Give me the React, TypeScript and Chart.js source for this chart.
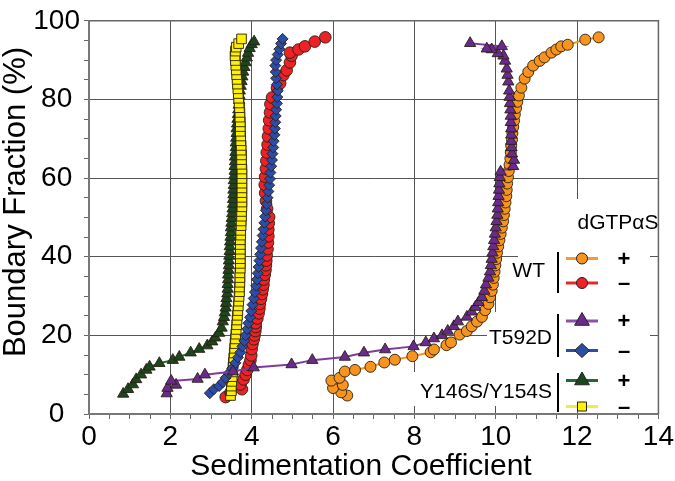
import React, { useEffect, useRef } from 'react';
import { Chart, registerables } from 'chart.js';

Chart.register(...registerables);

// ---------- data (Sedimentation Coefficient, Boundary Fraction %) ----------
const WT_PLUS_X = [6.35, 6.2, 6.0, 6.24, 5.96, 6.16, 6.29, 6.54, 6.92, 7.26, 7.52, 7.95, 8.4, 8.48, 8.79, 8.9, 9.11, 9.29, 9.41, 9.54, 9.66, 9.74, 9.82, 9.86, 9.9, 9.93, 9.95, 9.97, 9.99, 10.01, 10.03, 10.06, 10.09, 10.12, 10.15, 10.18, 10.2, 10.22, 10.24, 10.26, 10.27, 10.28, 10.3, 10.32, 10.34, 10.36, 10.37, 10.38, 10.4, 10.41, 10.43, 10.45, 10.47, 10.5, 10.53, 10.57, 10.63, 10.71, 10.8, 10.92, 11.08, 11.2, 11.37, 11.49, 11.61, 11.77, 12.2, 12.53];
const WT_PLUS_Y = [4.7, 5.5, 6.6, 7.4, 8.5, 9.2, 10.8, 11.2, 12.0, 13.1, 13.8, 14.7, 15.7, 16.4, 17.5, 18.2, 20.2, 21.1, 22.3, 23.5, 24.7, 26.4, 28.0, 29.7, 31.3, 32.9, 34.6, 36.2, 37.8, 39.4, 41.0, 42.6, 44.2, 45.8, 47.4, 49.0, 50.6, 52.2, 53.8, 55.4, 57.0, 58.6, 60.2, 61.8, 63.4, 65.0, 66.6, 68.2, 69.8, 71.4, 73.0, 74.6, 76.2, 77.8, 79.4, 81.0, 83.0, 85.3, 87.0, 88.6, 89.8, 90.7, 91.9, 92.7, 93.5, 93.9, 95.2, 95.8];

const WT_MINUS_X = [3.36, 3.48, 3.76, 3.72, 3.8, 3.85, 3.89, 3.93, 3.97, 3.99, 4.0, 4.02, 4.05, 4.07, 4.09, 4.1, 4.1, 4.14, 4.17, 4.19, 4.2, 4.23, 4.25, 4.27, 4.29, 4.3, 4.32, 4.34, 4.35, 4.36, 4.37, 4.39, 4.4, 4.41, 4.41, 4.42, 4.43, 4.38, 4.35, 4.33, 4.32, 4.33, 4.35, 4.36, 4.37, 4.39, 4.4, 4.42, 4.43, 4.45, 4.46, 4.5, 4.62, 4.7, 4.78, 4.86, 4.94, 4.98, 4.94, 5.15, 5.31, 5.55, 5.81];
const WT_MINUS_Y = [4.3, 5.5, 6.3, 7.5, 8.8, 10.0, 11.2, 12.5, 13.7, 14.9, 16.5, 17.8, 19.0, 20.0, 21.1, 22.1, 23.1, 24.3, 25.6, 26.8, 28.0, 29.3, 30.5, 31.7, 32.9, 34.2, 35.4, 36.6, 37.8, 39.0, 40.3, 41.9, 43.6, 45.2, 46.9, 48.5, 50.1, 52.2, 54.2, 56.2, 58.3, 60.3, 62.4, 64.4, 66.5, 68.5, 70.6, 72.6, 74.7, 76.7, 78.8, 80.5, 82.9, 84.1, 86.2, 87.4, 89.4, 91.1, 91.9, 92.7, 93.5, 94.7, 95.8];

const T592D_PLUS_X = [1.91, 1.93, 2.14, 2.02, 2.67, 2.85, 3.54, 4.05, 4.98, 5.49, 6.29, 6.76, 7.28, 7.98, 8.28, 8.48, 8.68, 8.82, 8.97, 9.07, 9.29, 9.41, 9.5, 9.58, 9.66, 9.72, 9.76, 9.82, 9.86, 9.88, 9.9, 9.92, 9.94, 9.96, 9.98, 10.0, 10.02, 10.04, 10.05, 10.06, 10.07, 10.08, 10.09, 10.1, 10.12, 10.43, 10.45, 10.4, 10.39, 10.38, 10.38, 10.38, 10.37, 10.37, 10.36, 10.35, 10.34, 10.33, 10.31, 10.29, 10.27, 10.23, 10.19, 10.05, 9.9, 9.78, 10.15, 9.37];
const T592D_PLUS_Y = [5.2, 6.6, 7.4, 8.4, 8.9, 10.0, 10.8, 11.8, 12.6, 13.7, 14.5, 15.6, 16.4, 17.2, 18.2, 19.2, 20.0, 21.1, 22.3, 23.5, 24.7, 26.0, 27.2, 28.4, 29.7, 31.3, 32.9, 34.6, 36.2, 37.8, 39.4, 41.0, 42.6, 44.2, 45.8, 47.4, 49.0, 50.6, 52.2, 53.8, 55.4, 57.0, 58.6, 60.2, 61.6, 63.0, 64.6, 66.2, 67.8, 69.4, 71.0, 72.6, 74.2, 75.8, 77.4, 79.0, 80.6, 82.2, 84.5, 86.2, 87.8, 89.8, 91.1, 91.7, 92.7, 92.9, 93.5, 94.3];

const T592D_MINUS_X = [2.97, 3.07, 3.2, 3.29, 3.36, 3.44, 3.52, 3.6, 3.66, 3.72, 3.77, 3.82, 3.85, 3.89, 3.92, 3.96, 3.99, 4.02, 4.05, 4.08, 4.11, 4.13, 4.15, 4.17, 4.19, 4.21, 4.23, 4.25, 4.27, 4.29, 4.31, 4.33, 4.35, 4.37, 4.39, 4.41, 4.43, 4.45, 4.46, 4.48, 4.5, 4.51, 4.53, 4.54, 4.56, 4.57, 4.58, 4.59, 4.6, 4.62, 4.63, 4.64, 4.62, 4.6, 4.59, 4.58, 4.6, 4.64, 4.68, 4.72, 4.76];
const T592D_MINUS_Y = [5.3, 6.3, 7.1, 8.1, 9.2, 10.4, 11.6, 13.0, 14.4, 15.7, 17.2, 18.6, 20.0, 21.6, 23.1, 24.6, 26.2, 27.8, 29.4, 31.0, 32.6, 34.2, 35.8, 37.4, 39.0, 40.6, 42.2, 43.8, 45.4, 47.0, 48.6, 50.2, 51.8, 53.4, 55.0, 56.6, 58.2, 59.8, 61.4, 63.0, 64.6, 66.2, 67.8, 69.4, 71.0, 72.6, 74.2, 75.8, 77.4, 79.0, 80.6, 82.2, 83.8, 85.4, 87.0, 88.6, 90.0, 91.4, 92.8, 94.2, 95.4];

const Y146S_PLUS_X = [0.84, 0.96, 1.08, 1.16, 1.28, 1.41, 1.49, 1.73, 2.06, 2.22, 2.5, 2.71, 2.91, 3.03, 3.11, 3.2, 3.26, 3.29, 3.32, 3.34, 3.36, 3.37, 3.38, 3.4, 3.41, 3.41, 3.42, 3.42, 3.43, 3.44, 3.44, 3.45, 3.46, 3.46, 3.47, 3.48, 3.49, 3.49, 3.5, 3.51, 3.52, 3.53, 3.54, 3.54, 3.55, 3.55, 3.56, 3.56, 3.57, 3.58, 3.58, 3.59, 3.59, 3.6, 3.61, 3.61, 3.62, 3.63, 3.63, 3.64, 3.65, 3.66, 3.67, 3.68, 3.69, 3.7, 3.71, 3.73, 3.75, 3.77, 3.79, 3.82, 3.85, 3.88, 3.91, 3.95, 4.0, 4.06];
const Y146S_PLUS_Y = [5.1, 6.3, 7.5, 8.8, 10.0, 11.2, 12.0, 12.9, 13.7, 14.5, 15.6, 16.5, 17.4, 18.4, 19.4, 20.6, 21.9, 23.5, 24.6, 25.8, 27.0, 28.2, 29.4, 30.6, 31.8, 33.0, 34.2, 35.4, 36.6, 37.8, 39.0, 40.2, 41.4, 42.6, 43.8, 45.0, 46.2, 47.4, 48.6, 49.8, 51.0, 52.2, 53.4, 54.6, 55.8, 57.0, 58.2, 59.4, 60.6, 61.8, 63.0, 64.2, 65.4, 66.6, 67.8, 69.0, 70.2, 71.4, 72.6, 73.8, 75.0, 76.2, 77.4, 78.6, 79.8, 81.0, 82.2, 83.4, 84.6, 85.8, 87.0, 88.2, 89.4, 90.6, 91.8, 93.0, 94.0, 94.7];

const Y146S_MINUS_X = [3.48, 3.5, 3.5, 3.51, 3.52, 3.53, 3.54, 3.55, 3.56, 3.57, 3.58, 3.59, 3.6, 3.61, 3.62, 3.63, 3.64, 3.65, 3.66, 3.67, 3.68, 3.69, 3.7, 3.7, 3.71, 3.71, 3.71, 3.72, 3.72, 3.72, 3.72, 3.72, 3.72, 3.72, 3.73, 3.73, 3.74, 3.74, 3.75, 3.75, 3.76, 3.76, 3.76, 3.76, 3.76, 3.76, 3.76, 3.76, 3.76, 3.75, 3.75, 3.75, 3.74, 3.74, 3.73, 3.73, 3.72, 3.72, 3.72, 3.71, 3.71, 3.7, 3.69, 3.68, 3.67, 3.66, 3.65, 3.64, 3.63, 3.62, 3.61, 3.6, 3.59, 3.6, 3.62, 3.68, 3.75];
const Y146S_MINUS_Y = [4.7, 5.9, 7.1, 8.3, 9.5, 10.7, 11.9, 13.1, 14.3, 15.5, 16.7, 17.9, 19.1, 20.3, 21.5, 22.7, 23.9, 25.1, 26.3, 27.5, 28.7, 29.9, 31.1, 32.3, 33.5, 34.7, 35.9, 37.1, 38.3, 39.5, 40.7, 41.9, 43.1, 44.3, 45.5, 46.7, 47.9, 49.1, 50.3, 51.5, 52.7, 53.9, 55.1, 56.3, 57.5, 58.7, 59.9, 61.1, 62.3, 63.5, 64.7, 65.9, 67.1, 68.3, 69.5, 70.7, 71.9, 73.1, 74.3, 75.5, 76.7, 77.9, 79.1, 80.3, 81.5, 82.7, 83.9, 85.1, 86.3, 87.5, 88.7, 89.9, 91.1, 92.3, 93.3, 94.2, 95.4];

const X_MIN = 0, X_MAX = 14, X_STEP = 0.5, X_LABEL_EVERY = 2;
const Y_MIN = 0, Y_MAX = 100, Y_STEP = 5, Y_LABEL_EVERY = 20;

const X_TITLE = 'Sedimentation Coefficient';
const Y_TITLE = 'Boundary Fraction (%)';
const LEGEND_TITLE = 'dGTPαS';
const LEGEND_GROUPS = ['WT', 'T592D', 'Y146S/Y154S'];
const LEGEND_SIGNS = ['+', '–'];

const FONT = '"Liberation Sans", Arial, Helvetica, sans-serif';

const pts = (xs: number[], ys: number[]) => xs.map((x, i) => ({ x, y: ys[i] }));
const isMult = (v: number, m: number) => Math.abs(v / m - Math.round(v / m)) < 1e-6;

const COLORS = {
  orange: '#F7941D',
  red: '#EC2227',
  purple: '#6A2A8C',
  purpleLine: '#7E3C9E',
  blue: '#2C4CA6',
  green: '#1C461B',
  greenLine: '#246B33',
  yellow: '#FFF200',
};

function drawMarker(ctx: CanvasRenderingContext2D, shape: string, x: number, y: number, fill: string) {
  ctx.beginPath();
  if (shape === 'circle') {
    ctx.arc(x, y, 5.5, 0, Math.PI * 2);
  } else if (shape === 'triangle') {
    const r = 8.5;
    ctx.moveTo(x, y - r);
    ctx.lineTo(x + r * Math.sin(Math.PI * 2 / 3), y + r / 2);
    ctx.lineTo(x - r * Math.sin(Math.PI * 2 / 3), y + r / 2);
    ctx.closePath();
  } else if (shape === 'diamond') {
    ctx.moveTo(x, y - 7);
    ctx.lineTo(x + 7.5, y);
    ctx.lineTo(x, y + 7);
    ctx.lineTo(x - 7.5, y);
    ctx.closePath();
  } else {
    ctx.rect(x - 4.5, y - 4.5, 9, 9);
  }
  ctx.fillStyle = fill;
  ctx.fill();
  ctx.lineWidth = 1;
  ctx.strokeStyle = '#222';
  ctx.stroke();
}

const overlayPlugin = {
  id: 'overlay',
  beforeDatasetsDraw(chart: any) {
    const ctx: CanvasRenderingContext2D = chart.ctx;
    const a = chart.chartArea;
    ctx.save();
    ctx.strokeStyle = '#666';
    ctx.lineWidth = 1.5;
    ctx.beginPath();
    ctx.moveTo(a.left, a.top);
    ctx.lineTo(a.right, a.top);
    ctx.lineTo(a.right, a.bottom);
    ctx.stroke();
    ctx.fillStyle = '#fff';
    ctx.fillRect(560, 199, 90, 38);
    ctx.fillRect(518, 236, 132, 76);
    ctx.fillRect(487, 312, 163, 60);
    ctx.fillRect(414, 372, 236, 34);
    ctx.restore();
  },
  afterDraw(chart: any) {
    const ctx: CanvasRenderingContext2D = chart.ctx;
    ctx.save();
    ctx.fillStyle = '#000';
    ctx.font = `30px ${FONT}`;
    ctx.textAlign = 'center';
    ctx.textBaseline = 'alphabetic';
    ctx.fillText(X_TITLE, 361, 475);
    ctx.save();
    ctx.font = `31px ${FONT}`;
    ctx.translate(25, 202);
    ctx.rotate(-Math.PI / 2);
    ctx.fillText(Y_TITLE, 0, 0);
    ctx.restore();

    ctx.font = `21px ${FONT}`;
    ctx.textBaseline = 'middle';
    ctx.textAlign = 'center';
    ctx.fillText(LEGEND_TITLE, 618, 223);

    const rows = [
      { y: 258.5, shape: 'circle', fill: COLORS.orange, line: '#F39A3B' },
      { y: 283, shape: 'circle', fill: COLORS.red, line: '#E8262B' },
      { y: 321, shape: 'triangle', fill: COLORS.purple, line: '#8E50AA' },
      { y: 350.5, shape: 'diamond', fill: COLORS.blue, line: '#2C4CA6' },
      { y: 380.5, shape: 'triangle', fill: COLORS.green, line: '#1F6A31' },
      { y: 406.5, shape: 'square', fill: COLORS.yellow, line: '#F2EC3A' },
    ];
    rows.forEach((r, i) => {
      ctx.strokeStyle = r.line;
      ctx.lineWidth = 3;
      ctx.beginPath();
      ctx.moveTo(566, r.y);
      ctx.lineTo(598, r.y);
      ctx.stroke();
      drawMarker(ctx, r.shape, 582, r.y, r.fill);
      ctx.fillStyle = '#000';
      ctx.textAlign = 'center';
      ctx.font = `bold 22px ${FONT}`;
      ctx.fillText(LEGEND_SIGNS[i % 2], 624, r.y + 1);
    });

    ctx.font = `21px ${FONT}`;
    const groups = [
      { top: 252, bottom: 293, labelY: 271, right: 545 },
      { top: 314, bottom: 357, labelY: 338, right: 552 },
      { top: 373, bottom: 412, labelY: 392, right: 552 },
    ];
    groups.forEach((g, i) => {
      ctx.strokeStyle = '#000';
      ctx.lineWidth = 2;
      ctx.beginPath();
      ctx.moveTo(558, g.top);
      ctx.lineTo(558, g.bottom);
      ctx.stroke();
      ctx.fillStyle = '#000';
      ctx.textAlign = 'right';
      ctx.fillText(LEGEND_GROUPS[i], g.right, g.labelY);
    });
    ctx.restore();
  },
};

export default function App() {
  const canvasRef = useRef<HTMLCanvasElement | null>(null);

  useEffect(() => {
    if (!canvasRef.current) return;
    const common = { showLine: true, borderWidth: 2, pointBorderWidth: 0.9, pointBorderColor: '#2a1f14' };
    const chart = new Chart(canvasRef.current, {
      type: 'scatter',
      data: {
        datasets: [
          { ...common, label: 'T592D +', data: pts(T592D_PLUS_X, T592D_PLUS_Y), borderColor: COLORS.purpleLine, backgroundColor: COLORS.purple, pointStyle: 'triangle', pointRadius: 6.5, order: 0 },
          { ...common, label: 'T592D −', data: pts(T592D_MINUS_X, T592D_MINUS_Y), borderColor: COLORS.blue, backgroundColor: COLORS.blue, pointStyle: 'rectRot', pointRadius: 5.5, order: 1 },
          { ...common, label: 'Y146S/Y154S −', data: pts(Y146S_MINUS_X, Y146S_MINUS_Y), borderColor: COLORS.yellow, backgroundColor: COLORS.yellow, pointStyle: 'rect', pointRadius: 6.8, order: 2 },
          { ...common, label: 'Y146S/Y154S +', data: pts(Y146S_PLUS_X, Y146S_PLUS_Y), borderColor: COLORS.greenLine, backgroundColor: COLORS.green, pointStyle: 'triangle', pointRadius: 6.5, order: 3 },
          { ...common, label: 'WT −', data: pts(WT_MINUS_X, WT_MINUS_Y), borderColor: COLORS.red, backgroundColor: COLORS.red, pointStyle: 'circle', pointRadius: 5.8, order: 4 },
          { ...common, label: 'WT +', data: pts(WT_PLUS_X, WT_PLUS_Y), borderColor: COLORS.orange, backgroundColor: COLORS.orange, pointStyle: 'circle', pointRadius: 5.5, order: 5 },
        ],
      },
      options: {
        responsive: false,
        animation: false,
        devicePixelRatio: 1,
        layout: { padding: { left: 0, right: 12, top: 7, bottom: 0 } },
        plugins: { legend: { display: false }, tooltip: { enabled: false }, title: { display: false } },
        scales: {
          x: {
            type: 'linear',
            min: X_MIN,
            max: X_MAX,
            afterFit: (s: any) => { s.height = 67; },
            border: { display: true, color: '#777', width: 2 },
            grid: {
              color: (c: any) => (c.tick && isMult(c.tick.value, X_LABEL_EVERY) ? '#555' : 'rgba(0,0,0,0)'),
              tickColor: '#666',
              tickLength: 5,
              lineWidth: 1,
              drawTicks: true,
            },
            ticks: {
              stepSize: X_STEP,
              autoSkip: false,
              maxRotation: 0,
              padding: 1,
              color: '#000',
              font: { family: FONT, size: 28 },
              callback: (v: any) => (isMult(Number(v), X_LABEL_EVERY) ? String(v) : ''),
            },
          },
          y: {
            type: 'linear',
            min: Y_MIN,
            max: Y_MAX,
            afterFit: (s: any) => { s.width = 89; },
            border: { display: true, color: '#777', width: 2 },
            grid: {
              color: (c: any) => (c.tick && isMult(c.tick.value, Y_LABEL_EVERY) ? '#555' : 'rgba(0,0,0,0)'),
              tickColor: '#666',
              tickLength: 5,
              lineWidth: 1,
              drawTicks: true,
            },
            ticks: {
              stepSize: Y_STEP,
              autoSkip: false,
              padding: 4,
              crossAlign: 'center',
              color: '#000',
              font: { family: FONT, size: 28 },
              callback: (v: any) => (isMult(Number(v), Y_LABEL_EVERY) ? String(v) : ''),
            },
          },
        },
      },
      plugins: [overlayPlugin],
    } as any);
    return () => chart.destroy();
  }, []);

  return (
    <div style={{ position: 'absolute', left: 0, top: 0, width: 675, height: 481, background: '#fff' }}>
      <canvas ref={canvasRef} width={675} height={481} style={{ display: 'block' }} />
    </div>
  );
}
